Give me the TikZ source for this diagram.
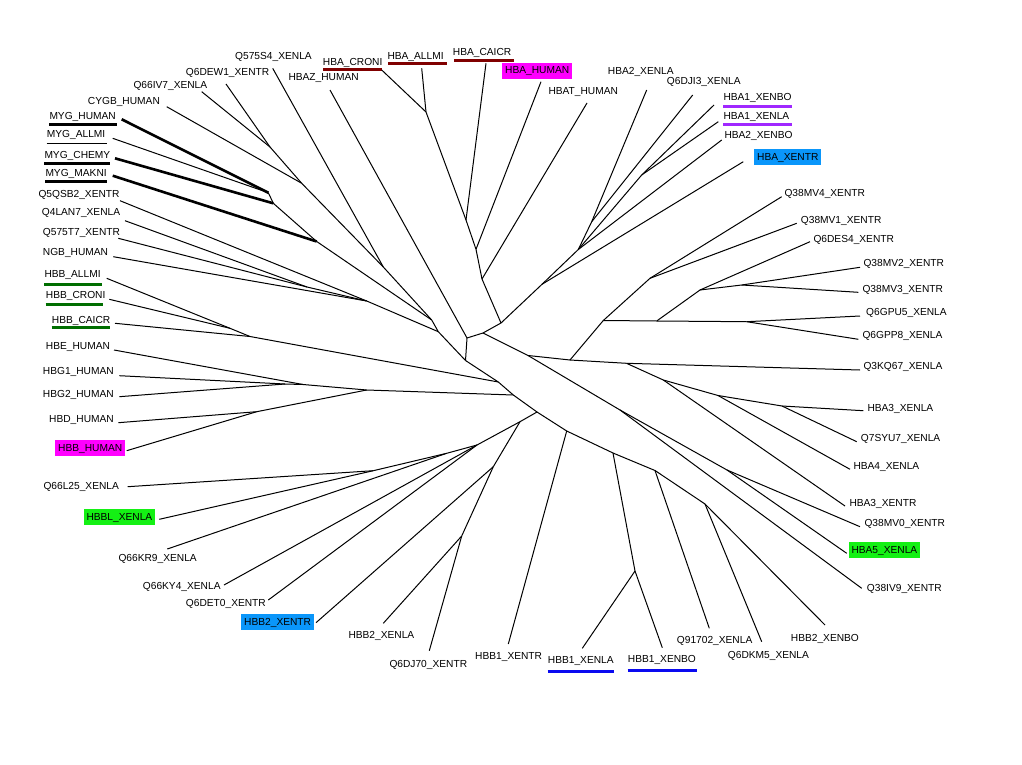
\documentclass[tikz,border=0pt]{standalone}
\usepackage{fontspec}
\setmainfont{Liberation Sans}
\definecolor{mag}{RGB}{255,0,255}
\definecolor{skyb}{RGB}{10,150,250}
\definecolor{lgreen}{RGB}{20,240,20}
\definecolor{dred}{RGB}{128,0,0}
\definecolor{purp}{RGB}{160,40,255}
\definecolor{ublue}{RGB}{10,10,240}
\definecolor{dgreen}{RGB}{0,110,0}
\begin{document}
\begin{tikzpicture}[x=1pt,y=-1pt,
  edge/.style={line width=1pt,line join=round},
  thickedge/.style={line width=2.6pt},
  lab/.style={anchor=base west,inner sep=0pt,font=\fontsize{10.2}{12}\selectfont},
  boxlab/.style={lab,inner xsep=3pt,inner ysep=0pt,text height=11pt,text depth=5pt},
  ul/.style={line width=3pt}]
\fill[white] (0,0) rectangle (1022,765);
\useasboundingbox (0,0) rectangle (1022,765);
% ---------- labels ----------
\node[lab] (lQ575S4) at (235,59.7) {Q575S4\_XENLA};
\node[lab] (lQ6DEW1) at (185.7,76) {Q6DEW1\_XENTR};
\node[lab] (lQ66IV7) at (133.3,88.7) {Q66IV7\_XENLA};
\node[lab] (lCYGB) at (87.7,104.7) {CYGB\_HUMAN};
\node[lab] (lMYGH) at (49.3,119.7) {MYG\_HUMAN};
\node[lab] (lMYGA) at (46.7,138) {MYG\_ALLMI};
\node[lab] (lMYGC) at (44.3,158.7) {MYG\_CHEMY};
\node[lab] (lMYGM) at (45.3,176) {MYG\_MAKNI};
\node[lab] (lQ5QSB2) at (38.3,197) {Q5QSB2\_XENTR};
\node[lab] (lQ4LAN7) at (41.7,215.7) {Q4LAN7\_XENLA};
\node[lab] (lQ575T7) at (42.7,235.4) {Q575T7\_XENTR};
\node[lab] (lNGB) at (42.7,255.7) {NGB\_HUMAN};
\node[lab] (lHBBA) at (44.3,277.7) {HBB\_ALLMI};
\node[lab] (lHBBCR) at (45.7,298.7) {HBB\_CRONI};
\node[lab] (lHBBCA) at (51.7,323) {HBB\_CAICR};
\node[lab] (lHBE) at (45.7,349.7) {HBE\_HUMAN};
\node[lab] (lHBG1) at (42.7,374.4) {HBG1\_HUMAN};
\node[lab] (lHBG2) at (42.7,397) {HBG2\_HUMAN};
\node[lab] (lHBD) at (49,422.7) {HBD\_HUMAN};
\node[boxlab,fill=mag] (lHBBH) at (55,451) {HBB\_HUMAN};
\node[lab] (lQ66L25) at (43.3,489) {Q66L25\_XENLA};
\node[boxlab,fill=lgreen] (lHBBL) at (83.3,520.3) {HBBL\_XENLA};
\node[lab] (lQ66KR9) at (118.3,561.4) {Q66KR9\_XENLA};
\node[lab] (lQ66KY4) at (142.7,589.4) {Q66KY4\_XENLA};
\node[lab] (lQ6DET0) at (185.7,606.4) {Q6DET0\_XENTR};
\node[boxlab,fill=skyb] (lHBB2XT) at (241,625.3) {HBB2\_XENTR};
\node[lab] (lHBB2XL) at (348.3,638.7) {HBB2\_XENLA};
\node[lab] (lQ6DJ70) at (389.3,667) {Q6DJ70\_XENTR};
\node[lab] (lHBB1XT) at (475,659.7) {HBB1\_XENTR};
\node[lab] (lHBB1XL) at (547.7,663.7) {HBB1\_XENLA};
\node[lab] (lHBB1XB) at (627.7,662.7) {HBB1\_XENBO};
\node[lab] (lQ91702) at (676.7,643.7) {Q91702\_XENLA};
\node[lab] (lQ6DKM5) at (727.7,658) {Q6DKM5\_XENLA};
\node[lab] (lHBB2XB) at (790.7,641) {HBB2\_XENBO};
\node[lab] (lQ38IV9) at (866.7,591) {Q38IV9\_XENTR};
\node[boxlab,fill=lgreen] (lHBA5) at (848.3,553.3) {HBA5\_XENLA};
\node[lab] (lQ38MV0) at (864.3,526.4) {Q38MV0\_XENTR};
\node[lab] (lHBA3XT) at (849.3,506.4) {HBA3\_XENTR};
\node[lab] (lHBA4) at (853.3,469.7) {HBA4\_XENLA};
\node[lab] (lQ7SYU7) at (860.7,441.4) {Q7SYU7\_XENLA};
\node[lab] (lHBA3XL) at (867.3,411) {HBA3\_XENLA};
\node[lab] (lQ3KQ67) at (863.3,369.7) {Q3KQ67\_XENLA};
\node[lab] (lGPP8) at (862.3,338.7) {Q6GPP8\_XENLA};
\node[lab] (lGPU5) at (866,315.4) {Q6GPU5\_XENLA};
\node[lab] (lMV3) at (862.3,292) {Q38MV3\_XENTR};
\node[lab] (lMV2) at (863.3,266) {Q38MV2\_XENTR};
\node[lab] (lDES4) at (813.3,242) {Q6DES4\_XENTR};
\node[lab] (lMV1) at (800.7,223) {Q38MV1\_XENTR};
\node[lab] (lMV4) at (784.3,196) {Q38MV4\_XENTR};
\node[boxlab,fill=skyb] (lHBAXT) at (754,160.3) {HBA\_XENTR};
\node[lab] (lHBA2XB) at (724.3,138.7) {HBA2\_XENBO};
\node[lab] (lHBA1XL) at (723.3,119.4) {HBA1\_XENLA};
\node[lab] (lHBA1XB) at (723.3,100.4) {HBA1\_XENBO};
\node[lab] (lQ6DJI3) at (666.7,84.7) {Q6DJI3\_XENLA};
\node[lab] (lHBA2XL) at (607.7,74.7) {HBA2\_XENLA};
\node[lab] (lHBAT) at (548.3,94.7) {HBAT\_HUMAN};
\node[boxlab,fill=mag] (lHBAH) at (502,73.7) {HBA\_HUMAN};
\node[lab] (lHBACA) at (452.7,56) {HBA\_CAICR};
\node[lab] (lHBAAL) at (387.3,59.4) {HBA\_ALLMI};
\node[lab] (lHBACR) at (322.7,65.4) {HBA\_CRONI};
\node[lab] (lHBAZ) at (288.3,80.4) {HBAZ\_HUMAN};
% ---------- underlines ----------
\draw[ul] (49.3,125) -- (116.7,125);
\draw[edge] (46.7,143) -- (106.7,143);
\draw[ul] (44.3,163.5) -- (110,163.5);
\draw[ul] (45.3,181.5) -- (107.3,181.5);
\draw[ul,dred] (323.3,69.5) -- (381.7,69.5);
\draw[ul,dred] (388.3,63.5) -- (447.3,63.5);
\draw[ul,dred] (454.3,60.5) -- (514,60.5);
\draw[ul,purp] (723.3,106.5) -- (792.3,106.5);
\draw[ul,purp] (723.3,124.5) -- (791.7,124.5);
\draw[ul,dgreen] (44.3,284) -- (101.7,284);
\draw[ul,dgreen] (45.7,304) -- (103.3,304);
\draw[ul,dgreen] (51.7,327.5) -- (110,327.5);
\draw[ul,ublue] (547.7,671.5) -- (614.3,671.5);
\draw[ul,ublue] (627.7,670) -- (696.7,670);
% ---------- leaf ends ----------
\coordinate (tQ575S4) at (272.7,68.3);
\coordinate (tQ6DEW1) at (226,84);
\coordinate (tQ66IV7) at (201.7,91.7);
\coordinate (tCYGB) at (166.7,106.7);
\coordinate (tMYGH) at (121.7,119.3);
\coordinate (tMYGA) at (112.7,138.3);
\coordinate (tMYGC) at (115,158.3);
\coordinate (tMYGM) at (112.7,175.7);
\coordinate (tQ5QSB2) at (120,200.7);
\coordinate (tQ4LAN7) at (125,220.7);
\coordinate (tQ575T7) at (118.3,238.3);
\coordinate (tNGB) at (113.3,256.7);
\coordinate (tHBBA) at (106.7,278.3);
\coordinate (tHBBCR) at (109.3,299.3);
\coordinate (tHBBCA) at (115,323.3);
\coordinate (tHBE) at (114,350);
\coordinate (tHBG1) at (119.3,375.7);
\coordinate (tHBG2) at (119.3,396.7);
\coordinate (tHBD) at (118.3,422.7);
\coordinate (tHBBH) at (126.7,450.7);
\coordinate (tQ66L25) at (127.7,486.7);
\coordinate (tHBBL) at (159.3,519.3);
\coordinate (tQ66KR9) at (167.3,549);
\coordinate (tQ66KY4) at (224,585);
\coordinate (tQ6DET0) at (268.3,600);
\coordinate (tHBB2XT) at (316,622.7);
\coordinate (tHBB2XL) at (383.3,623.3);
\coordinate (tQ6DJ70) at (429.3,650.7);
\coordinate (tHBB1XT) at (508.3,644);
\coordinate (tHBB1XL) at (582.3,648.3);
\coordinate (tHBB1XB) at (662.3,647.7);
\coordinate (tQ91702) at (709.3,628.3);
\coordinate (tQ6DKM5) at (761.7,641.7);
\coordinate (tHBB2XB) at (825,625);
\coordinate (tQ38IV9) at (861.7,588.3);
\coordinate (tHBA5) at (846.7,553.3);
\coordinate (tQ38MV0) at (860,526.7);
\coordinate (tHBA3XT) at (845,506);
\coordinate (tHBA4) at (850,469.3);
\coordinate (tQ7SYU7) at (856.7,441.7);
\coordinate (tHBA3XL) at (863.3,410.7);
\coordinate (tQ3KQ67) at (860,370);
\coordinate (tGPP8) at (858.3,339.3);
\coordinate (tGPU5) at (860,316);
\coordinate (tMV3) at (858.3,292.3);
\coordinate (tMV2) at (860,267.3);
\coordinate (tDES4) at (810,241.7);
\coordinate (tMV1) at (796.7,223.3);
\coordinate (tMV4) at (781.7,196.7);
\coordinate (tHBAXT) at (743.3,161.7);
\coordinate (tHBA2XB) at (721.7,140);
\coordinate (tHBA1XL) at (718.3,121.7);
\coordinate (tHBA1XB) at (714,105);
\coordinate (tQ6DJI3) at (692.7,95);
\coordinate (tHBA2XL) at (646.7,90);
\coordinate (tHBAT) at (587,103);
\coordinate (tHBAH) at (541,81.7);
\coordinate (tHBACA) at (486,63.3);
\coordinate (tHBAAL) at (421.7,68.3);
\coordinate (tHBACR) at (381.7,70);
\coordinate (tHBAZ) at (330,90);
% ---------- internal nodes ----------
\coordinate (A) at (467,338);
\coordinate (B) at (483,333);
\coordinate (C) at (501,323);
\coordinate (D) at (465.5,360.5);
\coordinate (E) at (482,279);
\coordinate (E2) at (476,249.3);
\coordinate (F) at (466,220);
\coordinate (G) at (426,112);
\coordinate (H1) at (542,284.3);
\coordinate (H2) at (578.3,249.5);
\coordinate (H3) at (591.7,221.7);
\coordinate (H4) at (641.7,175);
\coordinate (U1) at (528,355.5);
\coordinate (U2) at (570,360);
\coordinate (U3) at (626.5,363.3);
\coordinate (V1) at (663.3,380);
\coordinate (V2) at (718,395.5);
\coordinate (V3) at (782,406);
\coordinate (P) at (620,410);
\coordinate (P2) at (727,470);
\coordinate (Q1) at (603.3,320.5);
\coordinate (Q2) at (650,278.3);
\coordinate (Q3) at (656.7,321);
\coordinate (Q4) at (700,290);
\coordinate (Q5) at (746.7,321.7);
\coordinate (Q6) at (741.7,285);
\coordinate (K0) at (270,147);
\coordinate (K1) at (301.7,183.3);
\coordinate (K2) at (383.3,267);
\coordinate (K3) at (431.7,320);
\coordinate (K4) at (316.7,241.5);
\coordinate (K5) at (438.3,331.7);
\coordinate (Mg1) at (268.3,192.7);
\coordinate (Mg2) at (273.3,203.3);
\coordinate (P0) at (307,287);
\coordinate (P1) at (366.7,301);
\coordinate (L1) at (498.3,382);
\coordinate (L2) at (513.3,395);
\coordinate (L3) at (537,412);
\coordinate (L4) at (566.7,431);
\coordinate (L5) at (613,453);
\coordinate (L6) at (655,470.5);
\coordinate (L7) at (705,504);
\coordinate (Lx) at (635,571);
\coordinate (Jb) at (250,336.5);
\coordinate (Jbb) at (230,328.3);
\coordinate (M0) at (303,384.5);
\coordinate (M0b) at (285,384);
\coordinate (M1) at (366.7,390);
\coordinate (M2) at (256.7,411.7);
\coordinate (L3b) at (520,421.7);
\coordinate (N1) at (373.3,470.7);
\coordinate (N2) at (446.7,453.3);
\coordinate (N3) at (477,445);
\coordinate (Nb) at (493.3,466.7);
\coordinate (Nc) at (461.7,536);
% ---------- alpha side ----------
\draw[edge] (A) -- (tHBAZ);
\draw[edge] (A) -- (B);
\draw[edge] (A) -- (D);
\draw[edge] (B) -- (C);
\draw[edge] (B) -- (U1);
\draw[edge] (C) -- (E);
\draw[edge] (C) -- (H1);
\draw[edge] (E) -- (E2);
\draw[edge] (E) -- (tHBAT);
\draw[edge] (E2) -- (F);
\draw[edge] (E2) -- (tHBAH);
\draw[edge] (F) -- (G);
\draw[edge] (F) -- (tHBACA);
\draw[edge] (G) -- (tHBAAL);
\draw[edge] (G) -- (tHBACR);
\draw[edge] (H1) -- (H2);
\draw[edge] (H1) -- (tHBAXT);
\draw[edge] (H2) -- (H3);
\draw[edge] (H2) -- (H4);
\draw[edge] (H2) -- (tHBA2XB);
\draw[edge] (H3) -- (tHBA2XL);
\draw[edge] (H3) -- (tQ6DJI3);
\draw[edge] (H4) -- (tHBA1XB);
\draw[edge] (H4) -- (tHBA1XL);
\draw[edge] (U1) -- (U2);
\draw[edge] (U1) -- (P);
\draw[edge] (U2) -- (U3);
\draw[edge] (U2) -- (Q1);
\draw[edge] (U3) -- (tQ3KQ67);
\draw[edge] (U3) -- (V1);
\draw[edge] (V1) -- (V2);
\draw[edge] (V1) -- (tHBA3XT);
\draw[edge] (V2) -- (V3);
\draw[edge] (V2) -- (tHBA4);
\draw[edge] (V3) -- (tHBA3XL);
\draw[edge] (V3) -- (tQ7SYU7);
\draw[edge] (P) -- (P2);
\draw[edge] (P) -- (tQ38IV9);
\draw[edge] (P2) -- (tQ38MV0);
\draw[edge] (P2) -- (tHBA5);
\draw[edge] (Q1) -- (Q2);
\draw[edge] (Q1) -- (Q3);
\draw[edge] (Q2) -- (tMV4);
\draw[edge] (Q2) -- (tMV1);
\draw[edge] (Q3) -- (Q4);
\draw[edge] (Q3) -- (Q5);
\draw[edge] (Q4) -- (tDES4);
\draw[edge] (Q4) -- (Q6);
\draw[edge] (Q6) -- (tMV2);
\draw[edge] (Q6) -- (tMV3);
\draw[edge] (Q5) -- (tGPU5);
\draw[edge] (Q5) -- (tGPP8);
% ---------- other side ----------
\draw[edge] (D) -- (K5);
\draw[edge] (D) -- (L1);
\draw[edge] (K5) -- (K3);
\draw[edge] (K5) -- (P1);
\draw[edge] (K3) -- (K2);
\draw[edge] (K3) -- (K4);
\draw[edge] (K2) -- (K1);
\draw[edge] (K2) -- (tQ575S4);
\draw[edge] (K1) -- (K0);
\draw[edge] (K1) -- (tCYGB);
\draw[edge] (K0) -- (tQ66IV7);
\draw[edge] (K0) -- (tQ6DEW1);
\draw[edge] (K4) -- (Mg2);
\draw[thickedge] (K4) -- (tMYGM);
\draw[edge] (Mg2) -- (Mg1);
\draw[thickedge] (Mg2) -- (tMYGC);
\draw[thickedge] (Mg1) -- (tMYGH);
\draw[edge] (Mg1) -- (tMYGA);
\draw[edge] (P1) -- (tQ5QSB2);
\draw[edge] (P1) -- (tNGB);
\draw[edge] (P1) -- (P0);
\draw[edge] (P0) -- (tQ4LAN7);
\draw[edge] (P0) -- (tQ575T7);
\draw[edge] (L1) -- (L2);
\draw[edge] (L1) -- (Jb);
\draw[edge] (Jb) -- (Jbb);
\draw[edge] (Jb) -- (tHBBCA);
\draw[edge] (Jbb) -- (tHBBA);
\draw[edge] (Jbb) -- (tHBBCR);
\draw[edge] (L2) -- (L3);
\draw[edge] (L2) -- (M1);
\draw[edge] (M1) -- (M0);
\draw[edge] (M1) -- (M2);
\draw[edge] (M0) -- (tHBE);
\draw[edge] (M0) -- (M0b);
\draw[edge] (M0b) -- (tHBG1);
\draw[edge] (M0b) -- (tHBG2);
\draw[edge] (M2) -- (tHBD);
\draw[edge] (M2) -- (tHBBH);
\draw[edge] (L3) -- (L4);
\draw[edge] (L3) -- (L3b);
\draw[edge] (L3b) -- (N3);
\draw[edge] (L3b) -- (Nb);
\draw[edge] (N3) -- (tQ66KY4);
\draw[edge] (N3) -- (tQ6DET0);
\draw[edge] (N3) -- (N2);
\draw[edge] (N2) -- (tQ66KR9);
\draw[edge] (N2) -- (N1);
\draw[edge] (N1) -- (tQ66L25);
\draw[edge] (N1) -- (tHBBL);
\draw[edge] (Nb) -- (tHBB2XT);
\draw[edge] (Nb) -- (Nc);
\draw[edge] (Nc) -- (tHBB2XL);
\draw[edge] (Nc) -- (tQ6DJ70);
\draw[edge] (L4) -- (L5);
\draw[edge] (L4) -- (tHBB1XT);
\draw[edge] (L5) -- (L6);
\draw[edge] (L5) -- (Lx);
\draw[edge] (Lx) -- (tHBB1XL);
\draw[edge] (Lx) -- (tHBB1XB);
\draw[edge] (L6) -- (L7);
\draw[edge] (L6) -- (tQ91702);
\draw[edge] (L7) -- (tQ6DKM5);
\draw[edge] (L7) -- (tHBB2XB);
\end{tikzpicture}
\end{document}
